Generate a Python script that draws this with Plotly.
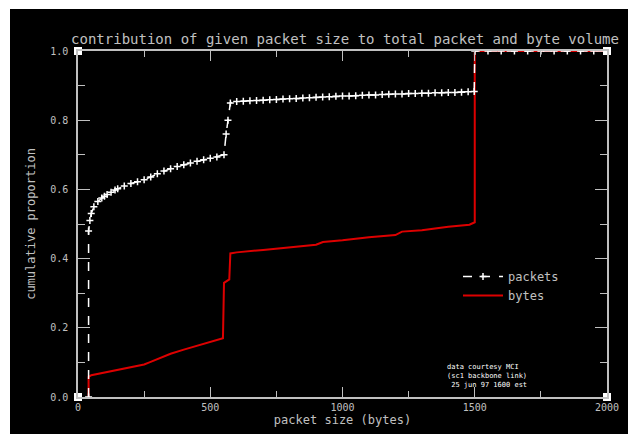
import plotly.graph_objects as go

# packets cumulative proportion
pkt_x = [40, 40, 45, 50, 60, 75, 90, 100, 110, 125, 140, 150, 175, 200, 225, 250, 275, 300, 325, 350,
         375, 400, 425, 450, 475, 500, 525, 552, 560, 567, 576, 600, 625, 650, 675, 700, 725, 750, 775,
         800, 825, 850, 875, 900, 925, 950, 975, 1000, 1025, 1050, 1075, 1100, 1125, 1150, 1175, 1200,
         1225, 1250, 1275, 1300, 1325, 1350, 1375, 1400, 1425, 1450, 1475, 1498, 1500, 1550, 1600, 1650,
         1700, 1750, 1800, 1850, 1900, 1950, 2000]
pkt_y = [0.0, 0.48, 0.51, 0.53, 0.55, 0.565, 0.575, 0.58, 0.585, 0.592, 0.598, 0.602, 0.61, 0.617, 0.622,
         0.628, 0.636, 0.645, 0.653, 0.66, 0.666, 0.671, 0.676, 0.681, 0.686, 0.69, 0.694, 0.70, 0.76,
         0.80, 0.85, 0.854, 0.855, 0.856, 0.857, 0.858, 0.859, 0.86, 0.861, 0.862, 0.863, 0.864, 0.865,
         0.866, 0.867, 0.868, 0.869, 0.87, 0.870, 0.871, 0.872, 0.873, 0.873, 0.874, 0.875, 0.876,
         0.876, 0.877, 0.877, 0.878, 0.878, 0.879, 0.879, 0.88, 0.88, 0.881, 0.882, 0.883, 1.0, 1.0,
         1.0, 1.0, 1.0, 1.0, 1.0, 1.0, 1.0, 1.0, 1.0]

# bytes cumulative proportion
byt_x = [40, 40, 50, 75, 100, 150, 200, 250, 270, 300, 350, 400, 450, 500, 548, 552, 560, 572, 576,
         600, 700, 800, 900, 926, 1000, 1100, 1200, 1225, 1300, 1400, 1480, 1500, 1500, 2000]
byt_y = [0.0, 0.058, 0.063, 0.067, 0.07, 0.078, 0.086, 0.094, 0.10, 0.11, 0.125, 0.137, 0.148, 0.158,
         0.17, 0.33, 0.335, 0.34, 0.415, 0.418, 0.425, 0.433, 0.44, 0.448, 0.453, 0.462, 0.468, 0.478,
         0.482, 0.492, 0.498, 0.505, 1.0, 1.0]

corner_x = [0, 0, 2000, 2000]
corner_y = [0, 1, 0, 1]

x_ticks = [0, 500, 1000, 1500, 2000]
x_tick_labels = ["0", "500", "1000", "1500", "2000"]
y_ticks = [0.0, 0.2, 0.4, 0.6, 0.8, 1.0]
y_tick_labels = ["0.0", "0.2", "0.4", "0.6", "0.8", "1.0"]

txt = "#c0c0c0"
fnt = "DejaVu Sans Mono"

# page body has an 8px margin; figure occupies (8,8)-(638,434)
OFF = 8
PL, PR, PT, PB = 78, 607, 51, 397  # plot area in page pixels
PW, PH = PR - PL, PB - PT

fig = go.Figure()
fig.add_trace(go.Scatter(
    x=byt_x, y=byt_y, mode="lines", name="bytes",
    line=dict(color="#dd0000", width=2),
))
fig.add_trace(go.Scatter(
    x=pkt_x, y=pkt_y, mode="lines+markers", name="packets",
    line=dict(color="white", width=1.5, dash="dash"),
    marker=dict(symbol="cross-thin", size=5, line=dict(color="white", width=1.5)),
))
fig.add_trace(go.Scatter(
    x=corner_x, y=corner_y, mode="markers", showlegend=False, cliponaxis=False,
    marker=dict(symbol="square", size=8, color="white"),
))

fig.add_shape(type="rect", xref="paper", yref="paper",
              x0=(10 - PL) / PW, x1=(628 - PL) / PW,
              y0=(PB - 440) / PH, y1=(PB - 9) / PH,
              fillcolor="black", line=dict(width=0), layer="below")

fig.add_annotation(xref="paper", yref="paper", x=(445 - PL) / PW, y=(PB - 361) / PH,
                   xanchor="left", yanchor="top", align="left", showarrow=False,
                   text="data courtesy MCI<br>(sc1 backbone link)<br> 25 jun 97 1600 est",
                   font=dict(family=fnt, size=7, color="white"))

W, H = 638 - OFF, 434 - OFF
fig.update_layout(
    width=W, height=H,
    margin=dict(l=PL - OFF, r=638 - PR, t=PT - OFF, b=434 - PB, autoexpand=False),
    paper_bgcolor="white", plot_bgcolor="black",
    title=dict(text="contribution of given packet size to total packet and byte volume",
               x=(345 - OFF) / W, xanchor="center", y=1 - (39 - OFF) / H, yanchor="middle",
               font=dict(family=fnt, size=14, color=txt)),
    legend=dict(x=(458 - PL) / PW, y=(PB - 262) / PH, xanchor="left", yanchor="top",
                bgcolor="rgba(0,0,0,0)", font=dict(family=fnt, size=12, color=txt),
                traceorder="reversed", itemwidth=40, tracegroupgap=0),
    showlegend=True,
)
fig.update_xaxes(
    range=[0, 2000], tickvals=x_ticks, ticktext=x_tick_labels, automargin=False,
    showgrid=False, zeroline=False, showline=True, linecolor="#c0c0c0", linewidth=1.5,
    mirror="ticks", ticks="inside", ticklen=10, tickcolor="#c0c0c0", tickwidth=1,
    minor=dict(dtick=250, ticks="inside", ticklen=6, tickcolor="#c0c0c0", showgrid=False),
    tickfont=dict(family=fnt, size=10, color=txt),
    title=dict(text="packet size (bytes)", font=dict(family=fnt, size=12, color=txt), standoff=4),
)
fig.update_yaxes(
    range=[0, 1], tickvals=y_ticks, ticktext=y_tick_labels, automargin=False,
    showgrid=False, zeroline=False, showline=True, linecolor="#c0c0c0", linewidth=1.5,
    mirror="ticks", ticks="inside", ticklen=12, tickcolor="#c0c0c0", tickwidth=1,
    minor=dict(dtick=0.1, ticks="inside", ticklen=7, tickcolor="#c0c0c0", showgrid=False),
    tickfont=dict(family=fnt, size=10, color=txt), ticklabelstandoff=6,
    title=dict(text="cumulative proportion", font=dict(family=fnt, size=12, color=txt), standoff=12),
)

fig.write_html("out.html")
